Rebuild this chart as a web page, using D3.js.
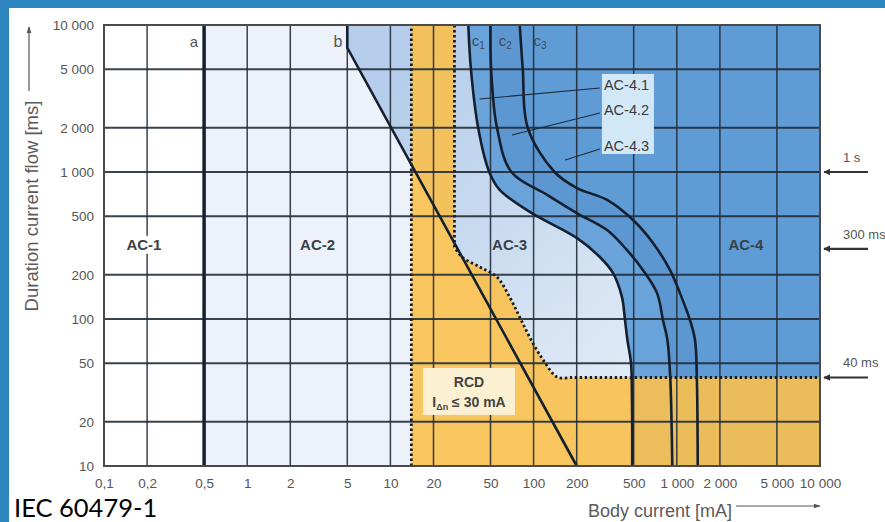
<!DOCTYPE html>
<html>
<head>
<meta charset="utf-8">
<script src="https://cdn.jsdelivr.net/npm/d3@7"></script>
<style>
  body { margin: 0; background: #fff; }
</style>
</head>
<body>
<div class="main"></div>
<script>
const width = 885;
const height = 522;
const margin = {top: 25, right: 65, bottom: 56, left: 104};

// axis ticks
const xTicks = [0.1, 0.2, 0.5, 1, 2, 5, 10, 20, 50, 100, 200, 500, 1000, 2000, 5000, 10000];
const xTickLabels = ['0,1', '0,2', '0,5', '1', '2', '5', '10', '20', '50', '100', '200', '500', '1 000', '2 000', '5 000', '10 000'];
const yTicks = [10, 20, 50, 100, 200, 500, 1000, 2000, 5000, 10000];
const yTickLabels = ['10', '20', '50', '100', '200', '500', '1 000', '2 000', '5 000', '10 000'];

// curves, [body current mA, duration ms]
const curveA = [[0.5, 10], [0.5, 10000]];
const curveB = [[5, 10000], [5, 7000], [200, 10]];
const curveC1 = [[35, 10000], [36.5, 5000], [41, 2000], [49, 1000], [58, 755], [94, 535], [200, 356], [290, 264], [358, 206], [414, 141], [435, 98], [452, 72], [479, 50], [486, 30], [488, 10]];
const curveC2 = [[50, 10000], [50.5, 5000], [55.5, 2000], [70, 1000], [124, 700], [200, 526], [326, 403], [449, 294], [581, 215], [728, 150], [801, 98], [860, 72], [900, 40], [930, 10]];
const curveC3 = [[80, 10000], [84, 5000], [91, 2000], [140, 1000], [201, 778], [326, 646], [495, 471], [682, 329], [897, 215], [1052, 150], [1237, 98], [1340, 72], [1380, 40], [1400, 10]];

// RCD (30 mA) zone boundary
const rcdLeft = [[14, 10], [14, 10000]];
const rcdUpper = [[28, 10000], [28, 310]];
const rcdBend = [[28, 310], [31.6, 264], [42, 226], [55.5, 193], [68, 141], [80, 103], [94, 75], [116, 53], [146, 40.3], [180, 40]];
const rcdFloor = [[180, 40], [10000, 40]];

// labels
const zoneLabels = [
  {text: 'AC-1', I: 0.19, t: 320, bg: '#ffffff'},
  {text: 'AC-2', I: 3.1, t: 320, bg: null},
  {text: 'AC-3', I: 68, t: 320, bg: null},
  {text: 'AC-4', I: 3040, t: 320, bg: null}
];
const subZones = ['AC-4.1', 'AC-4.2', 'AC-4.3'];
const subZoneT = [3908, 2643, 1503];
const subZoneTarget = [[42, 3140], [70.6, 1786], [166, 1208]];
const cNames = ['1', '2', '3'];
const cLabelAt = [37, 57, 100];
const timeMarks = [{text: '1 s', t: 1000}, {text: '300 ms', t: 300}, {text: '40 ms', t: 40}];

const svg = d3.select('.main')
  .append('svg')
  .attr('width', width)
  .attr('height', height)
  .style('font-family', '"Liberation Sans", Arial, sans-serif');

const x = d3.scaleLog()
  .domain([0.1, 10000])
  .range([margin.left, width - margin.right]);

const y = d3.scaleLog()
  .domain([10, 10000])
  .range([height - margin.bottom, margin.top]);

const lin = d3.line().x(d => x(d[0])).y(d => y(d[1]));
const smooth = d3.line().x(d => x(d[0])).y(d => y(d[1])).curve(d3.curveCatmullRom.alpha(0.5));
const seg = (gen, pts) => gen(pts).replace(/^M/, 'L');
const pt = (I, t) => `L${x(I)},${y(t)}`;

// blue frame
svg.append('rect').attr('x', 0).attr('y', 0).attr('width', width).attr('height', 8).attr('fill', '#2d86c0');
svg.append('rect').attr('x', 0).attr('y', 0).attr('width', 9).attr('height', height).attr('fill', '#2d86c0');

const defs = svg.append('defs');
const grad = defs.append('linearGradient')
  .attr('id', 'ac3')
  .attr('gradientUnits', 'userSpaceOnUse')
  .attr('x1', x(8)).attr('y1', y(3000))
  .attr('x2', x(400)).attr('y2', y(40));
grad.append('stop').attr('offset', 0).attr('stop-color', '#b6ceeb');
grad.append('stop').attr('offset', 1).attr('stop-color', '#dfeaf6');

const plot = svg.append('g');

// zones
plot.append('rect')
  .attr('x', x(0.1)).attr('y', y(10000))
  .attr('width', x(10000) - x(0.1)).attr('height', y(10) - y(10000))
  .attr('fill', '#ffffff');
plot.append('rect')
  .attr('x', x(0.5)).attr('y', y(10000))
  .attr('width', x(10000) - x(0.5)).attr('height', y(10) - y(10000))
  .attr('fill', '#edf1fa');
plot.append('path')
  .attr('d', lin(curveB) + pt(10000, 10) + pt(10000, 10000) + 'Z')
  .attr('fill', 'url(#ac3)');
[[curveC1, '#6aa3da'], [curveC2, '#5d97d2'], [curveC3, '#5f9bd5']].forEach(([c, col]) => {
  plot.append('path')
    .attr('d', smooth(c) + pt(10000, 10) + pt(10000, 10000) + 'Z')
    .attr('fill', col);
});

// RCD zone
plot.append('path')
  .attr('d', lin(rcdLeft) + seg(lin, rcdUpper) + seg(smooth, rcdBend) + seg(lin, rcdFloor) + pt(10000, 10) + 'Z')
  .attr('fill', '#fac04c')
  .attr('fill-opacity', 0.9);

// grid
plot.append('g')
  .selectAll('line')
  .data(xTicks.slice(1, -1))
  .enter()
  .append('line')
  .attr('x1', d => x(d)).attr('x2', d => x(d))
  .attr('y1', y(10)).attr('y2', y(10000))
  .attr('stroke', '#222c38').attr('stroke-opacity', 0.9).attr('stroke-width', 1.5);
plot.append('g')
  .selectAll('line')
  .data(yTicks.slice(1, -1))
  .enter()
  .append('line')
  .attr('y1', d => y(d)).attr('y2', d => y(d))
  .attr('x1', x(0.1)).attr('x2', x(10000))
  .attr('stroke', '#222c38').attr('stroke-opacity', 0.9).attr('stroke-width', 2);

// dotted RCD boundary
const dotted = plot.append('g')
  .attr('fill', 'none')
  .attr('stroke', '#1b1b1b')
  .attr('stroke-width', 2.8)
  .attr('stroke-dasharray', '2.4 2.6');
dotted.append('path').attr('d', lin(rcdLeft));
dotted.append('path').attr('d', lin(rcdUpper) + seg(smooth, rcdBend) + seg(lin, rcdFloor));

// curves
const curves = plot.append('g').attr('fill', 'none').attr('stroke', '#142030');
curves.append('path').attr('d', lin(curveA)).attr('stroke-width', 3.5);
curves.append('path').attr('d', lin(curveB)).attr('stroke-width', 2.6);
[curveC1, curveC2, curveC3].forEach(c => {
  curves.append('path').attr('d', smooth(c)).attr('stroke-width', 2.6);
});

// border
plot.append('rect')
  .attr('x', x(0.1)).attr('y', y(10000))
  .attr('width', x(10000) - x(0.1)).attr('height', y(10) - y(10000))
  .attr('fill', 'none').attr('stroke', '#4a4a4a').attr('stroke-width', 2);

// curve names
svg.append('text').attr('x', x(0.5) - 6).attr('y', y(10000) + 22)
  .attr('text-anchor', 'end').style('font-size', '15px').style('fill', '#555').text('a');
svg.append('text').attr('x', x(5) - 5).attr('y', y(10000) + 22)
  .attr('text-anchor', 'end').style('font-size', '16px').style('fill', '#555').text('b');
cNames.forEach((n, i) => {
  const t = svg.append('text').attr('x', x(cLabelAt[i])).attr('y', y(10000) + 21)
    .style('font-size', '15px').style('fill', '#3d4a5c').text('c');
  t.append('tspan').attr('dy', 3).style('font-size', '10px').text(n);
});

// zone labels
zoneLabels.forEach(z => {
  if (z.bg) {
    svg.append('rect').attr('x', x(z.I) - 20).attr('y', y(z.t) - 9)
      .attr('width', 40).attr('height', 18).attr('fill', z.bg);
  }
  svg.append('text').attr('x', x(z.I)).attr('y', y(z.t)).attr('dy', '0.36em')
    .attr('text-anchor', 'middle')
    .style('font-size', '15px').style('font-weight', 'bold').style('fill', '#3a3f48')
    .text(z.text);
});

// AC-4.x box with leaders
svg.append('g').selectAll('line')
  .data(subZoneTarget)
  .enter()
  .append('line')
  .attr('x1', d => x(d[0])).attr('y1', d => y(d[1]))
  .attr('x2', x(300) - 2).attr('y2', (d, i) => y(subZoneT[i]) + 3)
  .attr('stroke', '#1d2a3a').attr('stroke-width', 1.1);
svg.append('rect')
  .attr('x', x(300)).attr('y', y(subZoneT[0]) - 11)
  .attr('width', 52).attr('height', y(subZoneT[2]) - y(subZoneT[0]) + 19)
  .attr('fill', '#d2e8f7');
svg.append('g').selectAll('text')
  .data(subZones)
  .enter()
  .append('text')
  .attr('x', x(300) + 2).attr('y', (d, i) => y(subZoneT[i])).attr('dy', '0.36em')
  .style('font-size', '14.5px').style('fill', '#3a3a3a')
  .text(d => d);

// RCD label
const rcdI = 35.4, rcdT = 32.4;
svg.append('rect').attr('x', x(rcdI) - 46).attr('y', y(rcdT) - 23)
  .attr('width', 92).attr('height', 47).attr('fill', '#fcf0d3');
svg.append('text').attr('x', x(rcdI)).attr('y', y(rcdT) - 4).attr('text-anchor', 'middle')
  .style('font-size', '14px').style('font-weight', 'bold').style('fill', '#444').text('RCD');
const rl = svg.append('text').attr('x', x(rcdI)).attr('y', y(rcdT) + 16).attr('text-anchor', 'middle')
  .style('font-size', '14px').style('font-weight', 'bold').style('fill', '#444');
rl.append('tspan').text('I');
rl.append('tspan').attr('dy', 3).style('font-size', '9px').text('Δn');
rl.append('tspan').attr('dy', -3).text(' ≤ 30 mA');

// axes
const xAxis = svg.append('g')
  .attr('transform', `translate(0, ${height - margin.bottom})`)
  .call(d3.axisBottom(x).tickValues(xTicks).tickFormat((d, i) => xTickLabels[i]).tickSize(0).tickPadding(12));
const yAxis = svg.append('g')
  .attr('transform', `translate(${margin.left}, 0)`)
  .call(d3.axisLeft(y).tickValues(yTicks).tickFormat((d, i) => yTickLabels[i]).tickSize(0).tickPadding(10));
[xAxis, yAxis].forEach(g => {
  g.select('.domain').remove();
  g.selectAll('text')
    .style('font-family', '"Liberation Sans", Arial, sans-serif')
    .style('font-size', '13.5px')
    .style('fill', '#555');
});

// arrowheads
defs.append('marker')
  .attr('id', 'head')
  .attr('viewBox', '0 0 10 10')
  .attr('refX', 9).attr('refY', 5)
  .attr('markerWidth', 3.2).attr('markerHeight', 3.2)
  .attr('orient', 'auto')
  .append('path').attr('d', 'M0,0L10,5L0,10Z').attr('fill', '#333');
defs.append('marker')
  .attr('id', 'headS')
  .attr('viewBox', '0 0 10 10')
  .attr('refX', 9).attr('refY', 5)
  .attr('markerWidth', 6).attr('markerHeight', 6)
  .attr('orient', 'auto')
  .append('path').attr('d', 'M0,1.5L10,5L0,8.5Z').attr('fill', '#555');

// time marks on the right
timeMarks.forEach(m => {
  svg.append('line')
    .attr('x1', 868).attr('x2', x(10000) + 4)
    .attr('y1', y(m.t)).attr('y2', y(m.t))
    .attr('stroke', '#333').attr('stroke-width', 2.2)
    .attr('marker-end', 'url(#head)');
  svg.append('text').attr('x', 843).attr('y', y(m.t) - 10)
    .style('font-size', '13px').style('fill', '#555').text(m.text);
});

// axis titles
svg.append('text')
  .attr('transform', `translate(38, 206) rotate(-90)`)
  .attr('text-anchor', 'middle')
  .style('font-size', '18.5px').style('fill', '#5a5a5a')
  .text('Duration current flow [ms]');
svg.append('line')
  .attr('x1', 29).attr('x2', 29).attr('y1', 91).attr('y2', 27)
  .attr('stroke', '#555').attr('stroke-width', 1.2)
  .attr('marker-end', 'url(#headS)');
svg.append('text')
  .attr('x', 588).attr('y', 517)
  .style('font-size', '18px').style('fill', '#5a5a5a')
  .text('Body current [mA]');
svg.append('line')
  .attr('x1', 736).attr('x2', x(10000)).attr('y1', 506).attr('y2', 506)
  .attr('stroke', '#555').attr('stroke-width', 1.2)
  .attr('marker-end', 'url(#headS)');

svg.append('text')
  .attr('x', 14).attr('y', 517)
  .style('font-family', 'Lato, "Open Sans", sans-serif')
  .style('font-size', '25.5px').style('fill', '#000')
  .text('IEC 60479-1');
</script>
</body>
</html>
